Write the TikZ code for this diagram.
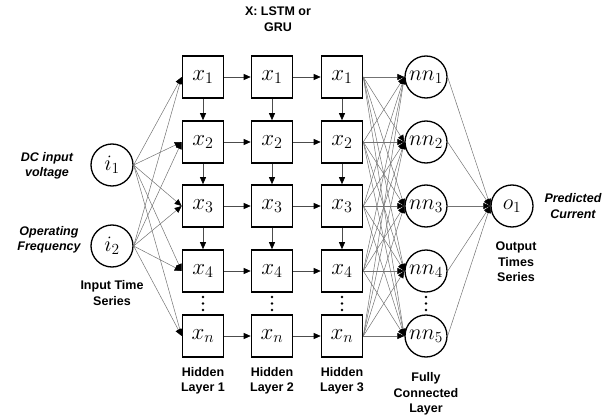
\RequirePackage{fix-cm}
\documentclass[tikz,border=0pt]{standalone}
\usepackage{fontspec}
\setmainfont{Liberation Sans}
\usetikzlibrary{arrows.meta}
\usetikzlibrary{positioning}
\tikzstyle{base}=[x=1pt, y=-1pt]
\tikzstyle{cell}=[draw, line width=1.6pt, minimum width=41pt, minimum height=42pt, inner sep=0pt, font=\fontsize{23}{26}\selectfont]
\tikzstyle{unit}=[draw, circle, line width=1.3pt, minimum size=42pt, inner sep=0pt, font=\fontsize{22}{26}\selectfont]
\tikzstyle{lbl}=[align=center, font=\bfseries\fontsize{12.5}{15.5}\selectfont]
\tikzstyle{ilbl}=[align=center, font=\bfseries\itshape\fontsize{12.5}{15.5}\selectfont]
\tikzstyle{link}=[draw=black!55, line width=0.5pt, -{Triangle[length=7pt,width=6pt,color=black]}]
\tikzstyle{flow}=[draw=black!70, line width=0.7pt, -{Triangle[length=7pt,width=6pt,color=black]}]

\begin{document}
\begin{tikzpicture}[base]
    \path [use as bounding box] (0,0) rectangle (616,420);
    % recurrent cells
    \foreach \c/\cx in {1/203,2/272,3/342} {
        \foreach \r/\ry/\s in {1/77/1,2/142/2,3/206/3,4/271/4,5/336/n}
            \node [cell] (x\c\r) at (\cx,\ry) {$x_{\s}$};
        \foreach \dy in {297,303.5,310}
            \fill (\cx,\dy) circle (1.3pt);
        \node [lbl] (hl\c) at (\cx,381) {Hidden\\Layer \c};
    }
    % inputs, dense units, output
    \node [unit] (i1) at (112,165) {$i_1$};
    \node [unit] (i2) at (112,246) {$i_2$};
    \foreach \k/\ky in {1/77,2/142,3/206,4/271,5/336}
        \node [unit] (nn\k) at (426,\ky) {$nn_{\k}$};
    \foreach \dy in {297,303.5,310}
        \fill (426,\dy) circle (1.3pt);
    \node [unit] (o1) at (512,206) {$o_1$};
    % labels
    \node [lbl] (cellname) at (278,19) {X: LSTM or\\GRU};
    \node [ilbl] (dcv) at (47,166) {DC input\\voltage};
    \node [ilbl] (opf) at (49,240) {Operating\\Frequency};
    \node [lbl] (its) at (112,293) {Input Time\\Series};
    \node [lbl] (fcl) at (426,394) {Fully\\Connected\\Layer};
    \node [ilbl] (pcur) at (573,206) {Predicted\\Current};
    \node [lbl] (ots) at (516,262) {Output\\Times\\Series};
    % connections
    \foreach \r in {1,...,5} {
        \draw [link] (i1.east) -- (x1\r.west);
        \draw [link] (i2.east) -- (x1\r.west);
        \draw [flow] (x1\r) -- (x2\r);
        \draw [flow] (x2\r) -- (x3\r);
        \foreach \k in {1,...,5}
            \draw [link] (x3\r.east) -- (nn\k.west);
        \draw [link] (nn\r.east) -- (o1.west);
    }
    \foreach \c in {1,2,3}
        \foreach \r/\rn in {1/2,2/3,3/4}
            \draw [flow] (x\c\r.south) -- (x\c\rn.north);
\end{tikzpicture}
\end{document}
